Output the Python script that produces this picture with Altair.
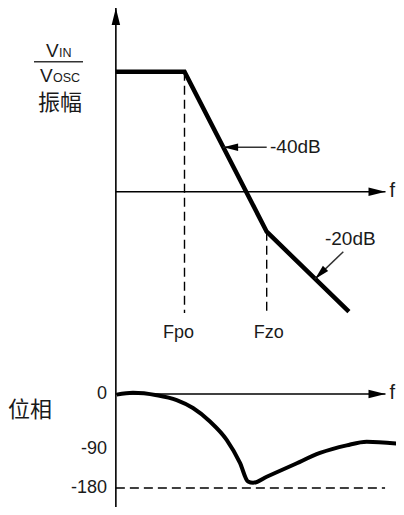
import altair as alt
import pandas as pd

# ---------------- data (log10 f units, dB, degrees) ----------------
axis_logf = 0.165          # where the vertical axis sits
axis_end_logf = 3.445      # arrow tip of the f axes

mag_logf = [0.165, 1.0, 2.0, 3.0]
mag_db = [30, 30, -10, -30]

corner_names = ["Fpo", "Fzo"]
corner_logf = [1.0, 2.0]
corner_db = [30, -10]
corner_dx = [-6, 2]
drop_to_db = -30.3
corner_label_db = -36.5

slope_names = ["-40dB", "-20dB"]
slope_text_logf = [2.04, 2.709]
slope_text_db = [9.75, -13.3]
arrow_from_logf = [2.0, 2.932]
arrow_from_db = [11.1, -15.0]
arrow_tip_logf = [1.472, 2.588]
arrow_tip_db = [11.1, -21.8]
arrow_angle = [180, 135]

phase_logf = [0.175, 0.373, 0.662, 0.905, 1.103, 1.310, 1.513, 1.675, 1.772,
              1.834, 2.0, 2.320, 2.648, 2.973, 3.217, 3.58]
phase_deg = [-1, 2, -2, -10, -23, -45, -75, -122, -165, -168, -154, -127,
             -99, -84, -78, -81]

phase_ticks = [0, -90, -180]
phase_tick_labels = ["0", "-90", "-180"]
tick_label_logf = 0.057

FONT = "Liberation Sans"
CJK = "Noto Sans CJK SC"
INK = "#1a1a1a"

xs = alt.Scale(domain=[0, 4], range=[94.3, 423.1])
ys_mag = alt.Scale(domain=[-30, 30], range=[303.7, 63.7])
ys_ph = alt.Scale(domain=[0, -90, -180], range=[386, 441, 480])

ARROW_RIGHT = "M-2,-0.5L0,0L-2,0.5Z"
ARROW_UP = "M0,0L-0.5,2L0.5,2Z"

X = lambda f: alt.X(f, type="quantitative", scale=xs, axis=None)
YM = lambda f: alt.Y(f, type="quantitative", scale=ys_mag, axis=None)
YP = lambda f: alt.Y(f, type="quantitative", scale=ys_ph, axis=None)

# ---------------- axes ----------------
vaxis = alt.Chart(pd.DataFrame({"x": [axis_logf]})).mark_rule(
    color="black", strokeWidth=1.6).encode(
    x=X("x"), y=alt.value(0), y2=alt.value(499))
vaxis_head = alt.Chart(pd.DataFrame({"x": [axis_logf]})).mark_point(
    shape=ARROW_UP, size=289, filled=True, color="black", opacity=1).encode(
    x=X("x"), y=alt.value(0))

hax_df = pd.DataFrame({"x0": [axis_logf], "x1": [axis_end_logf], "v": [0]})
mag_axis = alt.Chart(hax_df).mark_rule(color="black", strokeWidth=1.4).encode(
    x=X("x0"), x2="x1", y=YM("v"))
mag_head = alt.Chart(hax_df).mark_point(
    shape=ARROW_RIGHT, size=289, filled=True, color="black", opacity=1).encode(
    x=X("x1"), y=YM("v"))
mag_f = alt.Chart(hax_df).mark_text(
    text="f", font=FONT, fontSize=20, color=INK, align="left",
    baseline="middle", dx=4, dy=-1).encode(x=X("x1"), y=YM("v"))

ph_axis = alt.Chart(hax_df).mark_rule(color="black", strokeWidth=1.4).encode(
    x=X("x0"), x2="x1", y=YP("v"))
ph_head = alt.Chart(hax_df).mark_point(
    shape=ARROW_RIGHT, size=289, filled=True, color="black", opacity=1).encode(
    x=X("x1"), y=YP("v"))
ph_f = alt.Chart(hax_df).mark_text(
    text="f", font=FONT, fontSize=20, color=INK, align="left",
    baseline="middle", dx=4, dy=-1).encode(x=X("x1"), y=YP("v"))

# ---------------- magnitude ----------------
mag_df = pd.DataFrame({"x": mag_logf, "db": mag_db})
mag_line = alt.Chart(mag_df).mark_line(
    color="black", strokeWidth=4.5, strokeJoin="miter", strokeCap="butt").encode(
    x=X("x"), y=YM("db"), order="x:Q")

corner_df = pd.DataFrame({"name": corner_names, "x": corner_logf, "db": corner_db,
                          "db2": [drop_to_db] * 2, "lab": [corner_label_db] * 2,
                          "dx": corner_dx})
drops = alt.Chart(corner_df).mark_rule(
    color="black", strokeWidth=1.4, strokeDash=[9, 5]).encode(
    x=X("x"), y=YM("db"), y2="db2")
corner_text = alt.layer(*[
    alt.Chart(corner_df.iloc[[i]]).mark_text(
        font=FONT, fontSize=18, color=INK, align="center",
        baseline="alphabetic", dx=corner_dx[i]).encode(
        x=X("x"), y=YM("lab"), text="name:N")
    for i in range(len(corner_names))
])

slope_df = pd.DataFrame({"name": slope_names, "tx": slope_text_logf,
                         "ty": slope_text_db, "x0": arrow_from_logf,
                         "y0": arrow_from_db, "x1": arrow_tip_logf,
                         "y1": arrow_tip_db, "ang": arrow_angle})
slope_lines = alt.Chart(slope_df).mark_rule(color="#333333", strokeWidth=1.5).encode(
    x=X("x0"), x2="x1", y=YM("y0"), y2="y1")
slope_heads = alt.Chart(slope_df).mark_point(
    shape=ARROW_RIGHT, size=220, filled=True, color="black", opacity=1).encode(
    x=X("x1"), y=YM("y1"), angle=alt.Angle("ang:Q", scale=None))
slope_text = alt.Chart(slope_df).mark_text(
    font=FONT, fontSize=19, color=INK, align="left", baseline="alphabetic").encode(
    x=X("tx"), y=YM("ty"), text="name:N")

# ---------------- phase ----------------
ph_df = pd.DataFrame({"x": phase_logf, "deg": phase_deg})
ph_line = alt.Chart(ph_df).mark_line(
    color="black", strokeWidth=4, interpolate="monotone").encode(
    x=X("x"), y=YP("deg"), order="x:Q")

ref180 = alt.Chart(pd.DataFrame({"x0": [axis_logf], "x1": [3.44], "v": [-180]})).mark_rule(
    color="black", strokeWidth=1.4, strokeDash=[9, 5]).encode(
    x=X("x0"), x2="x1", y=YP("v"))

tick_df = pd.DataFrame({"v": phase_ticks, "t": phase_tick_labels,
                        "x": [tick_label_logf] * 3})
tick_text = alt.Chart(tick_df).mark_text(
    font=FONT, fontSize=18, color=INK, align="right", baseline="middle").encode(
    x=X("x"), y=YP("v"), text="t:N")

# ---------------- left-hand labels ----------------
def label(txt, x, y, size, font=FONT, align="left", baseline="alphabetic"):
    return alt.Chart(pd.DataFrame({"t": [txt]})).mark_text(
        font=font, fontSize=size, color=INK, align=align, baseline=baseline).encode(
        x=alt.value(x), y=alt.value(y), text="t:N")

v_in = label("V", 38, 49, 19)
v_in_sub = label("IN", 51, 49, 12.5)
bar = alt.Chart(pd.DataFrame({"a": [0]})).mark_rule(color="#333333", strokeWidth=1.6).encode(
    x=alt.value(26), x2=alt.value(75), y=alt.value(53.7))
v_osc = label("V", 32, 74, 19)
v_osc_sub = label("OSC", 45, 74, 12.5)
amp = label("振幅", 52, 95, 22, font=CJK, align="center", baseline="middle")
phase_lbl = label("位相", 22, 402, 22, font=CJK, align="center", baseline="middle")

chart = alt.layer(
    vaxis, vaxis_head,
    mag_axis, mag_head, mag_f,
    drops, mag_line, corner_text,
    slope_lines, slope_heads, slope_text,
    ph_axis, ph_head, ph_f, ref180, ph_line, tick_text,
    v_in, v_in_sub, bar, v_osc, v_osc_sub, amp, phase_lbl,
).resolve_scale(y="independent").properties(
    width=388, height=499, padding=0,
    autosize=alt.AutoSizeParams(type="none"),
    background="white",
).configure_view(stroke=None)

chart.save("out.html", embed_options={"renderer": "svg", "actions": False})
